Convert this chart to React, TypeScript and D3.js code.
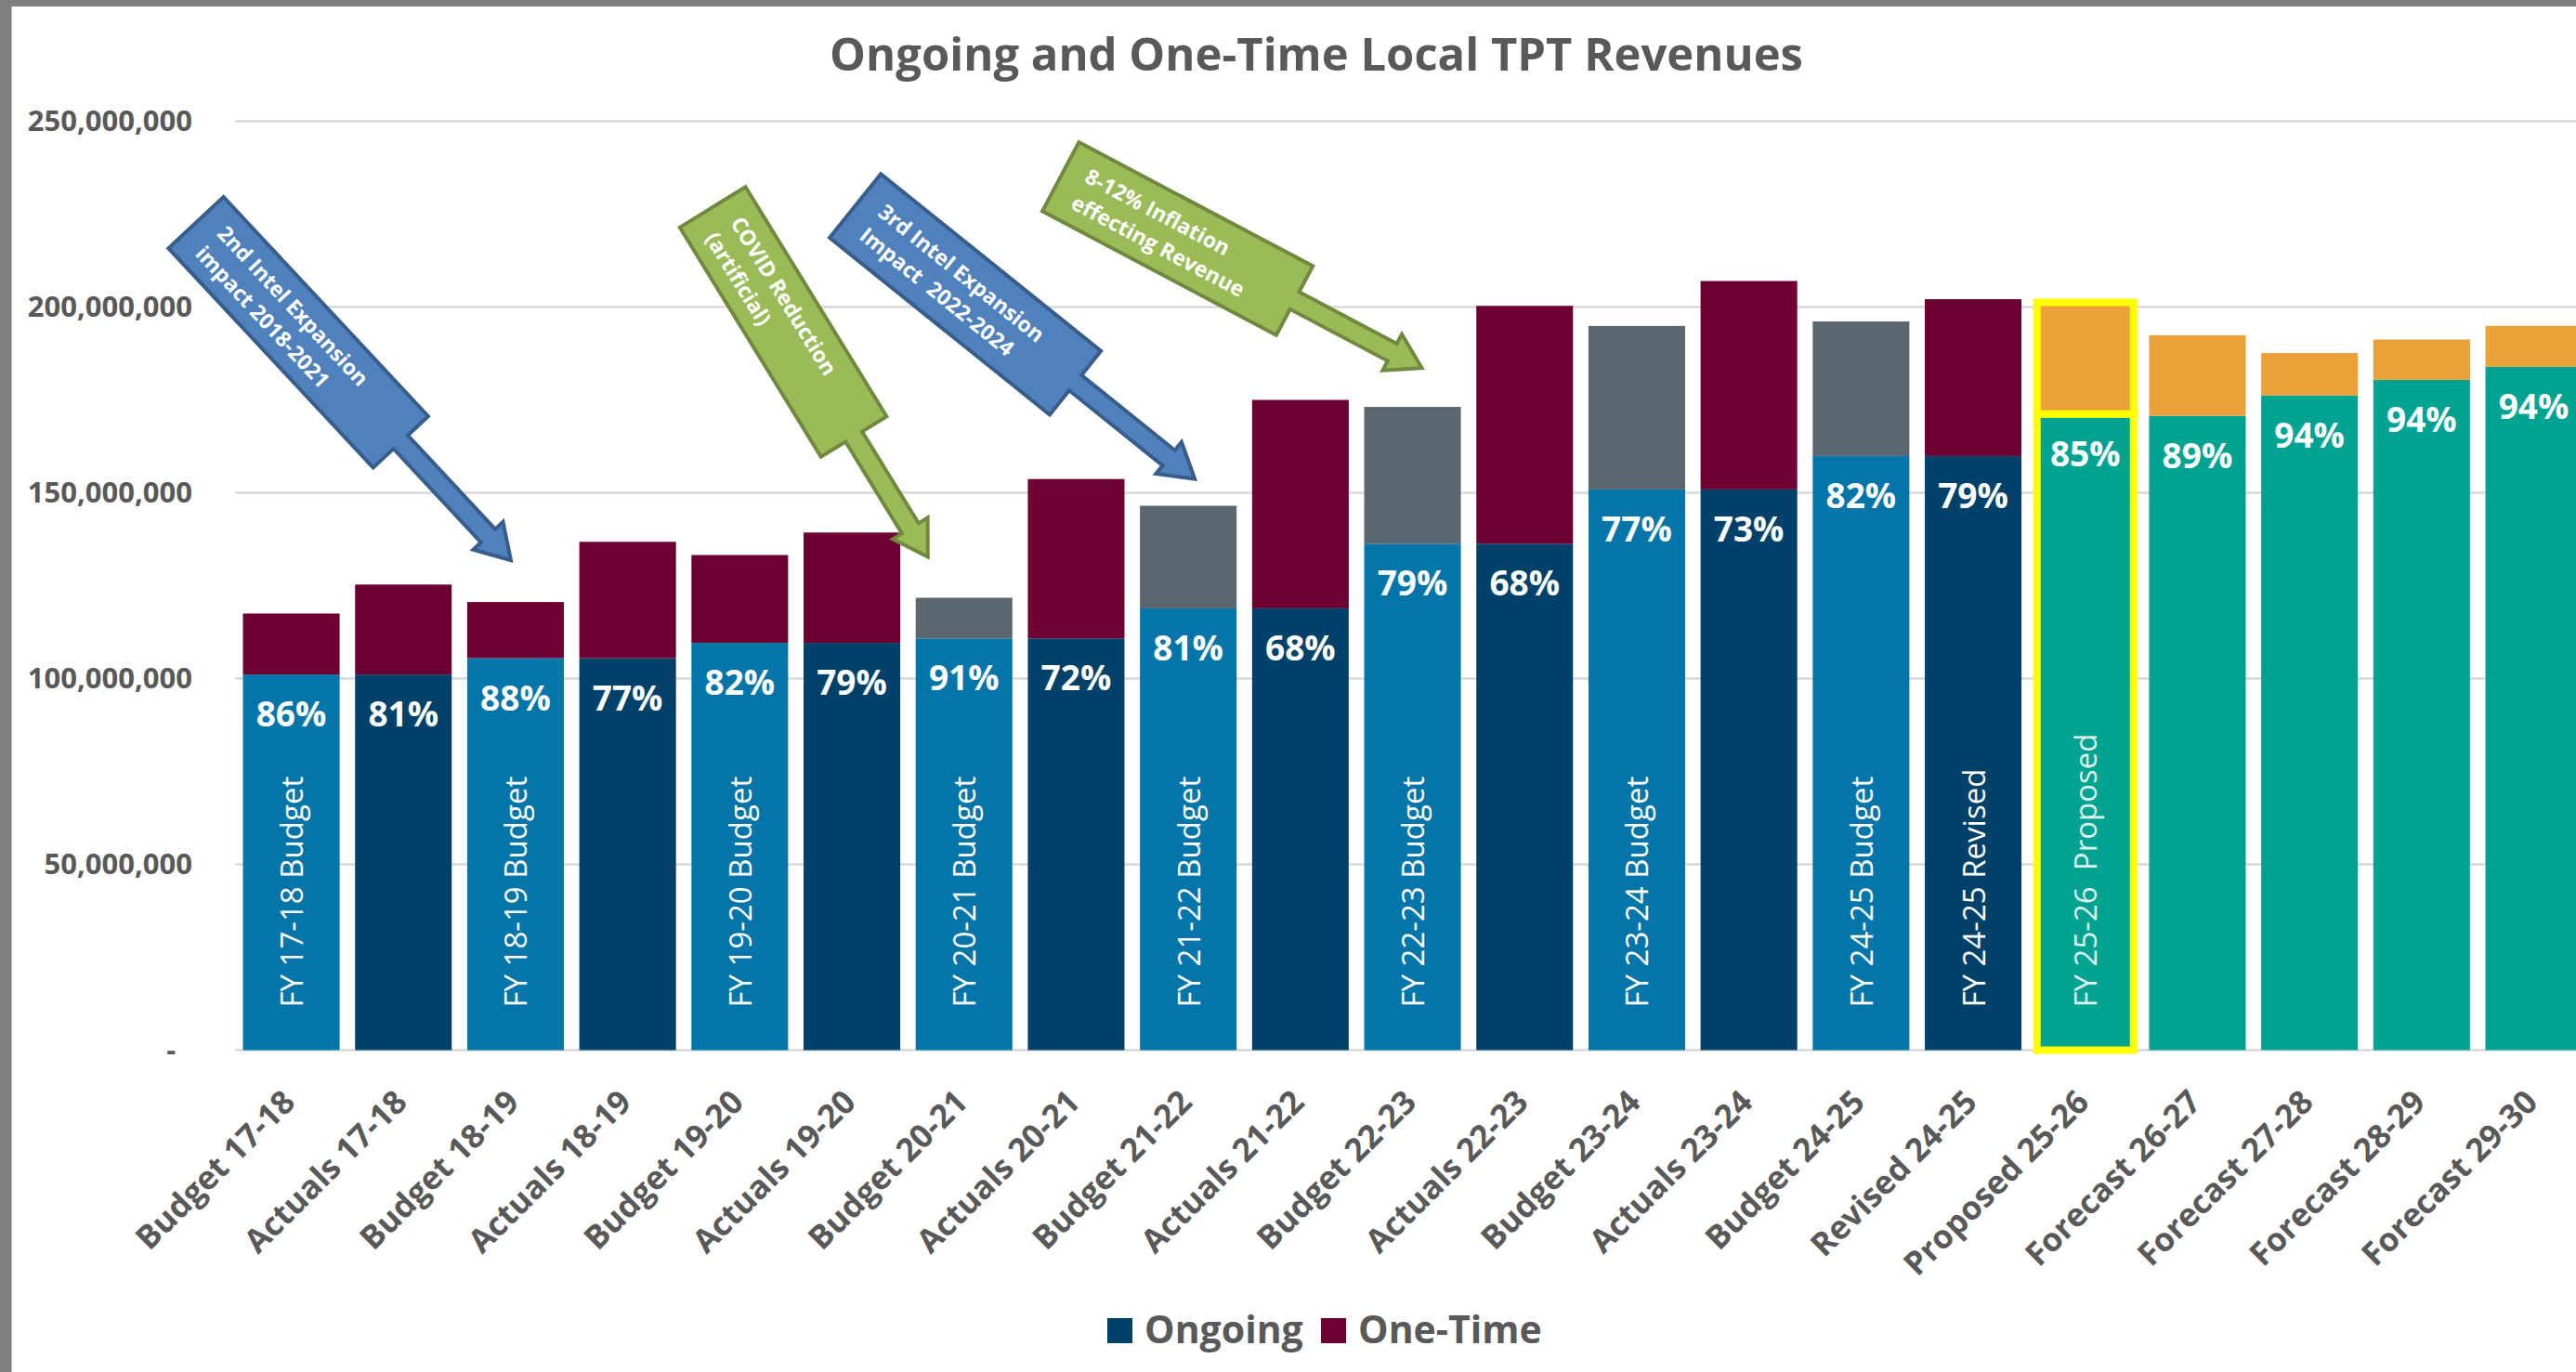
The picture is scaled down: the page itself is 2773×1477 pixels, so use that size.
import React, { useEffect, useRef } from 'react';
import * as d3 from 'd3';

// Chart values (dollars)
const categories = [
  'Budget 17-18', 'Actuals 17-18', 'Budget 18-19', 'Actuals 18-19', 'Budget 19-20',
  'Actuals 19-20', 'Budget 20-21', 'Actuals 20-21', 'Budget 21-22', 'Actuals 21-22',
  'Budget 22-23', 'Actuals 22-23', 'Budget 23-24', 'Actuals 23-24', 'Budget 24-25',
  'Revised 24-25', 'Proposed 25-26', 'Forecast 26-27', 'Forecast 27-28', 'Forecast 28-29',
  'Forecast 29-30',
];

const ongoing = [
  101100000, 101100000, 105500000, 105500000, 109600000,
  109600000, 110800000, 110800000, 118900000, 118900000,
  136300000, 136300000, 150900000, 150900000, 159900000,
  159900000, 171200000, 170700000, 176200000, 180400000,
  183900000,
];

const oneTime = [
  16400000, 24200000, 15100000, 31300000, 23650000,
  29700000, 10950000, 42900000, 27600000, 56100000,
  36800000, 64000000, 44000000, 56100000, 36200000,
  42200000, 30050000, 21700000, 11400000, 10850000,
  11000000,
];

const shareLabels = [
  '86%', '81%', '88%', '77%', '82%', '79%', '91%', '72%', '81%', '68%',
  '79%', '68%', '77%', '73%', '82%', '79%', '85%', '89%', '94%', '94%', '94%',
];

const barNotes = [
  'FY 17-18 Budget', '', 'FY 18-19 Budget', '', 'FY 19-20 Budget',
  '', 'FY 20-21 Budget', '', 'FY 21-22 Budget', '',
  'FY 22-23 Budget', '', 'FY 23-24 Budget', '', 'FY 24-25 Budget',
  'FY 24-25 Revised', 'FY 25-26  Proposed', '', '', '', '',
];

const yTicks = [0, 50000000, 100000000, 150000000, 200000000, 250000000];
const legendItems = ['Ongoing', 'One-Time'];
const highlighted = 'Proposed 25-26';

// arrow callouts pointing at bars
const callouts = [
  { lines: ['2nd Intel Expansion', 'impact 2018-2021'], target: 'Budget 18-19', dx: -5, dy: -45, angle: 47, length: 497, box: 323, depth: 81, tone: 'blue' },
  { lines: ['COVID Reduction', '(artificial)'], target: 'Budget 20-21', dx: -39, dy: -44, angle: 58.4, length: 442, box: 290, depth: 83, tone: 'green' },
  { lines: ['3rd Intel Expansion', 'Impact  2022-2024'], target: 'Budget 21-22', dx: 7, dy: -29, angle: 38.8, length: 469, box: 304, depth: 88, tone: 'blue' },
  { lines: ['8-12% Inflation', 'effecting Revenue'], target: 'Budget 22-23', dx: 10, dy: -42, angle: 27.9, length: 440, box: 285, depth: 84, tone: 'green' },
];

const WIDTH = 2773;
const HEIGHT = 1477;
const FONT = "'Open Sans', 'DejaVu Sans', sans-serif";
const GREY = '#595959';

const colors = {
  budget: '#0375A8',
  actual: '#00416A',
  forecast: '#00A391',
  oneTime: '#6D0033',
  reserve: '#5B6670',
  forecastTop: '#EBA03A',
};

const ongoingColor = (c: string) => {
  const kind = c.split(' ')[0];
  if (kind === 'Budget') return colors.budget;
  if (kind === 'Proposed' || kind === 'Forecast') return colors.forecast;
  return colors.actual;
};

const oneTimeColor = (c: string) => {
  const [kind, year] = c.split(' ');
  if (kind === 'Proposed' || kind === 'Forecast') return colors.forecastTop;
  if (kind === 'Budget' && +year.slice(0, 2) >= 20) return colors.reserve;
  return colors.oneTime;
};

export default function App() {
  const svgRef = useRef<SVGSVGElement>(null);

  useEffect(() => {
    if (!svgRef.current) return;
    const svg = d3.select(svgRef.current);
    svg.selectAll('*').remove();

    const x = d3.scaleBand()
      .domain(categories)
      .range([253.2, 2787.9])
      .paddingInner(0.138)
      .paddingOuter(0.069);

    const y = d3.scaleLinear()
      .domain([0, 250000000])
      .range([1130.5, 130.5]);

    const bw = x.bandwidth();

    // white page + grey frame on top / left
    svg.append('rect').attr('width', WIDTH).attr('height', HEIGHT).attr('fill', '#fff');
    svg.append('rect').attr('width', WIDTH).attr('height', 7).attr('fill', '#7f7f7f');
    svg.append('rect').attr('width', 12.5).attr('height', HEIGHT).attr('fill', '#7f7f7f');

    // title
    svg.append('text')
      .attr('x', 1417)
      .attr('y', 76)
      .attr('text-anchor', 'middle')
      .style('font-family', FONT)
      .style('font-size', '49px')
      .style('font-weight', 700)
      .style('fill', GREY)
      .text('Ongoing and One-Time Local TPT Revenues');

    // gridlines
    svg.append('g')
      .selectAll('line')
      .data(yTicks)
      .join('line')
      .attr('x1', 253)
      .attr('x2', WIDTH)
      .attr('y1', d => y(d))
      .attr('y2', d => y(d))
      .attr('stroke', '#d9d9d9')
      .attr('stroke-width', 2.5);

    // y axis labels
    const yAxis = svg.append('g')
      .attr('transform', 'translate(253,0)')
      .call(d3.axisLeft(y)
        .tickValues(yTicks)
        .tickSize(0)
        .tickPadding(46)
        .tickFormat((d: any) => (d === 0 ? '-\u2007' : d3.format(',')(d))));
    yAxis.select('.domain').remove();
    yAxis.selectAll('text')
      .style('font-family', FONT)
      .style('font-size', '31px')
      .style('font-weight', 700)
      .style('fill', GREY);

    // stacked bars
    const table = categories.map((c, i) => ({ category: c, ongoing: ongoing[i], oneTime: oneTime[i] }));
    const series = d3.stack<any>().keys(['ongoing', 'oneTime'])(table);

    svg.append('g')
      .selectAll('g')
      .data(series)
      .join('g')
      .selectAll('rect')
      .data(s => s.map(p => ({ key: s.key, p })))
      .join('rect')
      .attr('x', d => x(d.p.data.category)!)
      .attr('width', bw)
      .attr('y', d => y(d.p[1]))
      .attr('height', d => y(d.p[0]) - y(d.p[1]))
      .attr('fill', d => d.key === 'ongoing' ? ongoingColor(d.p.data.category) : oneTimeColor(d.p.data.category))
      .attr('stroke', d => d.p.data.category === highlighted ? '#FFFF00' : 'none')
      .attr('stroke-width', 8);

    // ongoing share labels
    svg.append('g')
      .selectAll('text')
      .data(table)
      .join('text')
      .attr('x', d => x(d.category)! + bw / 2)
      .attr('y', d => y(d.ongoing) + 56)
      .attr('text-anchor', 'middle')
      .style('font-family', FONT)
      .style('font-size', '37px')
      .style('font-weight', 700)
      .style('fill', '#fff')
      .text((d, i) => shareLabels[i]);

    // vertical notes inside bars
    svg.append('g')
      .selectAll('text')
      .data(table.filter((d, i) => barNotes[i] !== ''))
      .join('text')
      .attr('transform', d => `translate(${x(d.category)! + bw / 2},${y(0) - 46}) rotate(-90)`)
      .attr('dominant-baseline', 'central')
      .style('font-family', FONT)
      .style('font-size', '33px')
      .style('white-space', 'pre')
      .style('fill', d => d.category === highlighted ? '#dcf2ed' : '#fff')
      .text(d => barNotes[categories.indexOf(d.category)]);

    // category axis
    const xAxis = svg.append('g')
      .attr('transform', `translate(0,${y(0)})`)
      .call(d3.axisBottom(x).tickSize(0));
    xAxis.select('.domain').remove();
    xAxis.selectAll('text')
      .attr('x', 0)
      .attr('y', 0)
      .attr('dy', 0)
      .attr('transform', 'translate(6,58) rotate(-45)')
      .attr('text-anchor', 'end')
      .style('font-family', FONT)
      .style('font-size', '35px')
      .style('font-weight', 700)
      .style('fill', GREY);

    // callout arrows
    const tones: Record<string, { fill: string; stroke: string }> = {
      blue: { fill: '#4F81BD', stroke: '#385D8A' },
      green: { fill: '#9BBB59', stroke: '#71893F' },
    };
    const sw = 10.5, hw = 22, hl = 36;
    callouts.forEach(c => {
      const row = table[categories.indexOf(c.target)];
      const tipX = x(c.target)! + bw / 2 + c.dx;
      const tipY = y(row.ongoing + row.oneTime) + c.dy;
      const L = c.box, T = c.length, W = c.depth / 2;
      const g = svg.append('g')
        .attr('transform', `translate(${tipX},${tipY}) rotate(${c.angle}) translate(${-T},0)`);
      const path = d3.path();
      path.moveTo(0, -W);
      path.lineTo(L, -W);
      path.lineTo(L, -sw);
      path.lineTo(T - hl, -sw);
      path.lineTo(T - hl, -hw);
      path.lineTo(T, 0);
      path.lineTo(T - hl, hw);
      path.lineTo(T - hl, sw);
      path.lineTo(L, sw);
      path.lineTo(L, W);
      path.lineTo(0, W);
      path.closePath();
      g.append('path')
        .attr('d', path.toString())
        .attr('fill', tones[c.tone].fill)
        .attr('stroke', tones[c.tone].stroke)
        .attr('stroke-width', 4)
        .attr('stroke-linejoin', 'miter');
      g.selectAll('text')
        .data(c.lines)
        .join('text')
        .attr('x', 24)
        .attr('y', (d, i) => (i === 0 ? -16 : 16))
        .attr('dominant-baseline', 'central')
        .style('font-family', FONT)
        .style('font-size', '23px')
        .style('font-weight', 700)
        .style('white-space', 'pre')
        .style('fill', '#fff')
        .text(d => d);
    });

    // legend
    const legend = svg.append('g').attr('transform', 'translate(1192,1419)');
    const legendColors = [colors.actual, colors.oneTime];
    const legendX = [0, 230];
    legendItems.forEach((label, i) => {
      legend.append('rect')
        .attr('x', legendX[i])
        .attr('y', 0)
        .attr('width', 27)
        .attr('height', 27)
        .attr('fill', legendColors[i]);
      legend.append('text')
        .attr('x', legendX[i] + 40)
        .attr('y', 27)
        .style('font-family', FONT)
        .style('font-size', '41px')
        .style('font-weight', 700)
        .style('fill', GREY)
        .text(label);
    });
  }, []);

  return (
    <svg
      ref={svgRef}
      width={WIDTH}
      height={HEIGHT}
      style={{ position: 'absolute', left: 0, top: 0, display: 'block' }}
    />
  );
}
